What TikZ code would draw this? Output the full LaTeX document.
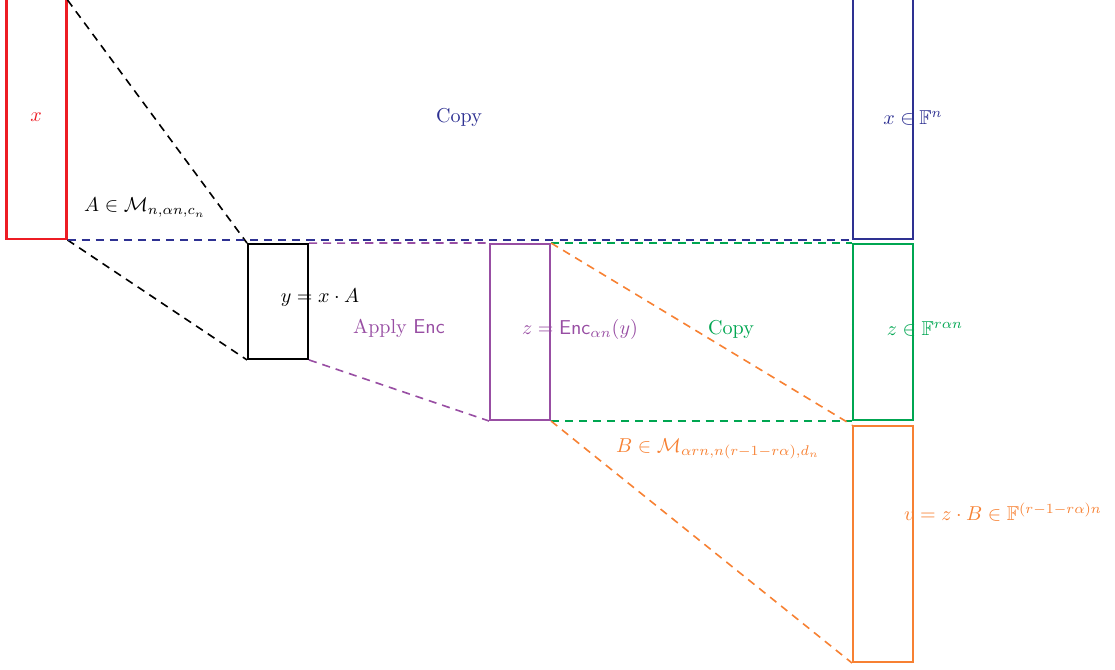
\documentclass[tikz,border=0pt]{standalone}
\usepackage{amsmath,amssymb}
\definecolor{cred}{RGB}{237,28,36}
\definecolor{cblue}{RGB}{46,49,146}
\definecolor{cpurple}{RGB}{152,78,163}
\definecolor{cgreen}{RGB}{0,166,81}
\definecolor{corange}{RGB}{247,129,51}
\tikzset{
  vecbox/.style={draw, rectangle, line width=1pt, inner sep=0pt, minimum width=1.05cm},
  link/.style={line width=0.8pt, dash pattern=on 4pt off 3pt}
}
\begin{document}
\begin{tikzpicture}[x=0.0175cm,y=-0.0175cm]
\useasboundingbox (0,0) rectangle (1115,670);
\clip (0,0) rectangle (1115,670);
% vectors
\node[vecbox, cred, minimum height=4.4cm] (xin) at (36.5,113.3) {};
\node[vecbox, cblue, minimum height=4.4cm] (xcopy) at (883,113.3) {};
\node[vecbox, black, minimum height=2.01cm] (ybox) at (278,301.5) {};
\node[vecbox, cpurple, minimum height=3.08cm] (zbox) at (520,332) {};
\node[vecbox, cgreen, minimum height=3.08cm] (zcopy) at (883,332) {};
\node[vecbox, corange, minimum height=4.13cm] (vbox) at (883,544) {};
\coordinate (xcut) at (xin.east |- 0,0);
% maps
\draw[link, black] (xcut) -- (ybox.north west);
\draw[link, black] (xin.south east) -- (ybox.south west);
\draw[link, cblue] (xin.south east) -- (xcopy.south west);
\draw[link, cpurple] (ybox.north east) -- (zbox.north west);
\draw[link, cpurple] (ybox.south east) -- (zbox.south west);
\draw[link, cgreen] (zbox.north east) -- (zcopy.north west);
\draw[link, cgreen] (zbox.south east) -- (zcopy.south west);
\draw[link, corange] (zbox.north east) -- (vbox.north west);
\draw[link, corange] (zbox.south east) -- (vbox.south west);
% labels
\node[cred] (lx) at (36,117) {$x$};
\node[cblue] (lcopy1) at (459,117) {Copy};
\node[cblue] (lxf) at (913,118) {$x \in \mathbb{F}^n$};
\node[black] (la) at (145,208) {$A \in \mathcal{M}_{n,\alpha n,c_n}$};
\node[black] (ly) at (320,298) {$y = x \cdot A$};
\node[cpurple] (lenc) at (399,328) {Apply $\mathsf{Enc}$};
\node[cpurple] (lz) at (580,329) {$z = \mathsf{Enc}_{\alpha n}(y)$};
\node[cgreen] (lcopy2) at (731,329) {Copy};
\node[cgreen] (lzf) at (925,329) {$z \in \mathbb{F}^{r\alpha n}$};
\node[corange] (lb) at (718,449) {$B \in \mathcal{M}_{\alpha r n,n(r-1-r\alpha),d_n}$};
\node[corange] (lv) at (1003,512) {$v = z \cdot B \in \mathbb{F}^{(r-1-r\alpha)n}$};
\end{tikzpicture}
\end{document}
